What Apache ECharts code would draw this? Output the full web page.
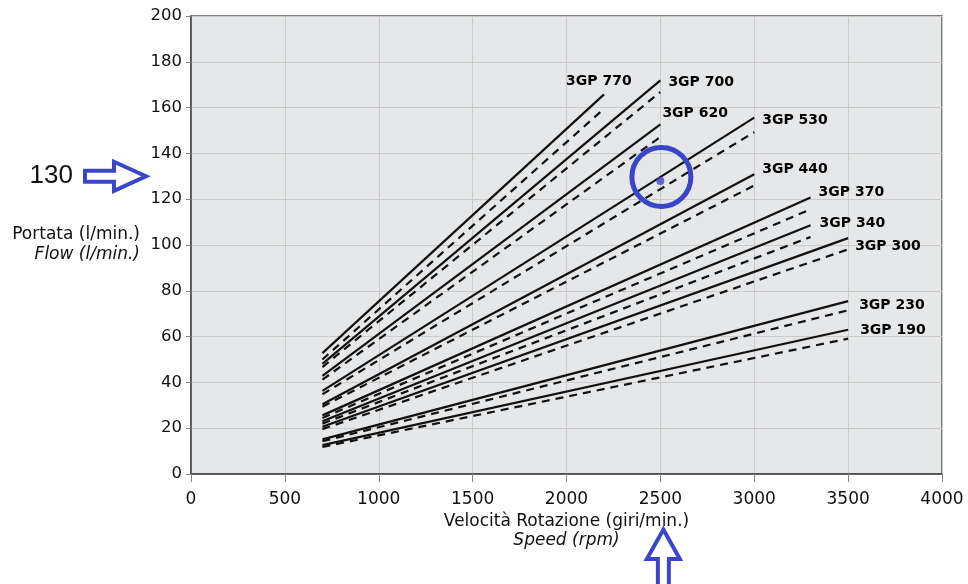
<!DOCTYPE html>
<html>
<head>
<meta charset="utf-8">
<script src="https://cdn.jsdelivr.net/npm/echarts@6/dist/echarts.min.js"></script>
<style>
html,body{margin:0;padding:0;background:#fff;}
#c{width:968px;height:584px;}
</style>
</head>
<body>
<div id="c"></div>
<script>
// ---- data ----
const models = ['3GP 190','3GP 230','3GP 300','3GP 340','3GP 370','3GP 440','3GP 530','3GP 620','3GP 700','3GP 770'];
const rpmStart = [700,700,700,700,700,700,700,700,700,700];
const rpmEnd   = [3500,3500,3500,3300,3300,3000,3000,2500,2500,2200];
const solidStart = [12.6,15.1,20.6,23.0,25.6,30.5,36.3,42.8,48.1,52.8];
const solidEnd   = [63.0,75.5,103.0,108.6,120.7,130.9,155.6,152.7,171.9,165.8];
const dashStart  = [11.8,14.3,19.6,22.0,24.5,29.4,34.8,41.2,46.7,50.0];
const dashEnd    = [59.1,71.5,98.1,103.5,115.6,126.0,149.3,147.2,166.8,159.5];
const markedPoint = [2500,128];
const markedFlowLabel = '130';

// ---- style ----
const labelOffset = [[12,1],[11,4],[7,8],[9,-2],[8,-5],[8,-5],[8,3],[2,-11],[8,2],[-38,-13]];
const BLUE = '#3b45c9';
const TXT = '#111';
const FONT = 'DejaVu Sans';

const chart = echarts.init(document.getElementById('c'), null, {renderer:'canvas'});
const series = [];
models.forEach((m,i)=>{
  series.push({
    type:'line', name:m+' a', symbol:'none', silent:true, animation:false,
    data:[[rpmStart[i],solidStart[i]],[rpmEnd[i],solidEnd[i]]],
    lineStyle:{color:'#111',width:2.2,type:'solid'}
  });
  series.push({
    type:'line', name:m+' b', symbol:'none', silent:true, animation:false,
    data:[[rpmStart[i],dashStart[i]],[rpmEnd[i],dashEnd[i]]],
    lineStyle:{color:'#111',width:2.2,type:[8,6]}
  });
});
series.push({
  type:'scatter', symbolSize:0, silent:true, animation:false, z:5,
  itemStyle:{color:'#000',opacity:1},
  data: models.map((m,i)=>({
    value:[rpmEnd[i],solidEnd[i]],
    label:{show:true, position:'right', distance:0, offset:labelOffset[i], formatter:m,
      fontFamily:FONT, fontWeight:'bold', fontSize:14, color:'#000', opacity:1, align:'left', verticalAlign:'middle'}
  }))
});
series.push({
  type:'scatter', symbolSize:8, silent:true, animation:false, z:10,
  itemStyle:{color:BLUE},
  data:[markedPoint]
});

chart.setOption({
  animation:false,
  grid:{left:191,top:16,right:26,bottom:110,show:true,backgroundColor:'#e6e7e9',borderColor:'#555',borderWidth:1.5},
  xAxis:{
    type:'value', min:0, max:4000, interval:500,
    name:'{a|Velocità Rotazione (giri/min.)}\n{b|Speed (rpm)}',
    nameLocation:'middle', nameGap:36,
    nameTextStyle:{rich:{
      a:{fontFamily:FONT,fontSize:17,color:TXT,lineHeight:19,align:'center'},
      b:{fontFamily:FONT,fontSize:17,fontStyle:'italic',color:TXT,lineHeight:19,align:'center'}
    }},
    axisLine:{show:true,lineStyle:{color:'#444',width:1.5}},
    axisTick:{show:true,length:8,lineStyle:{color:'#888'}},
    axisLabel:{fontFamily:FONT,fontSize:17,color:TXT,margin:17,formatter:v=>String(v)},
    splitLine:{show:true,lineStyle:{color:'#cbcbcb',width:1}}
  },
  yAxis:{
    type:'value', min:0, max:200, interval:20,
    name:'{a|Portata (l/min.)}\n{b|Flow (l/min.)}',
    nameLocation:'middle', nameGap:51, nameRotate:0,
    nameTextStyle:{align:'right',rich:{
      a:{fontFamily:FONT,fontSize:17,color:TXT,lineHeight:20,align:'right'},
      b:{fontFamily:FONT,fontSize:17,fontStyle:'italic',color:TXT,lineHeight:20,align:'right'}
    }},
    axisLine:{show:true,lineStyle:{color:'#444',width:1.5}},
    axisTick:{show:true,length:5,lineStyle:{color:'#888'}},
    axisLabel:{fontFamily:FONT,fontSize:16.5,color:TXT,margin:9},
    splitLine:{show:true,lineStyle:{color:'#cbcbcb',width:1}}
  },
  series:series
});

// annotations positioned from the axes
const p = chart.convertToPixel({gridIndex:0}, markedPoint);
const y130 = chart.convertToPixel({gridIndex:0}, [0, Number(markedFlowLabel)])[1];
const tipX = 146, tailX = 85, headX = 114;
const ax = p[0] + 3, tipY = 529.5;
chart.setOption({
  graphic:[
    {type:'text', x:73, y:y130, style:{text:markedFlowLabel, font:'26px "Liberation Sans"', fill:'#111', align:'right', verticalAlign:'middle'}},
    {type:'polygon', shape:{points:[[tipX,y130],[headX,y130-14.5],[headX,y130-5.5],[tailX,y130-5.5],[tailX,y130+5.5],[headX,y130+5.5],[headX,y130+14.5]]},
      style:{fill:'#fff',stroke:BLUE,lineWidth:4,lineJoin:'miter'}},
    {type:'polygon', shape:{points:[[ax,tipY],[ax+16.5,559],[ax+5.5,559],[ax+5.5,595],[ax-5.5,595],[ax-5.5,559],[ax-16.5,559]]},
      style:{fill:'#fff',stroke:BLUE,lineWidth:4,lineJoin:'miter'}},
    {type:'circle', shape:{cx:p[0]+1, cy:p[1]-4, r:29.5}, style:{fill:'none',stroke:BLUE,lineWidth:5}, z:100}
  ]
});
</script>
</body>
</html>
